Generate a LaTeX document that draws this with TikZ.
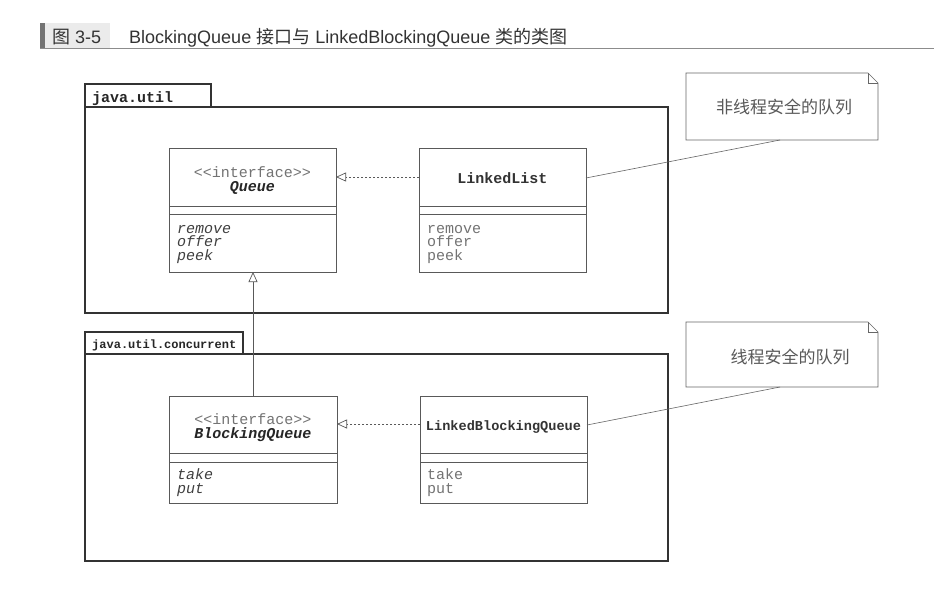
\documentclass[tikz,border=0pt]{standalone}
\usepackage{fontspec}
\setmonofont{Liberation Mono}
\newfontfamily\cjk{Noto Sans CJK SC}
\newfontfamily\titlelat{Liberation Sans}
\usetikzlibrary{arrows.meta}
\begin{document}
\begin{tikzpicture}[x=1pt,y=-1pt,
  pkgbox/.style={draw=black!80, line width=1.5pt, rectangle, inner sep=0pt, outer sep=0pt, anchor=north west},
  classbox/.style={draw=black!65, line width=0.8pt, rectangle, inner sep=0pt, outer sep=0pt, anchor=north west},
  sepline/.style={draw=black!65, line width=0.8pt},
  tt/.style={font=\fontsize{15}{18}\selectfont\ttfamily, inner sep=0pt},
  pkglabel/.style={tt, font=\fontsize{15}{18}\selectfont\ttfamily\bfseries, text=black!85, anchor=base west},
  stereo/.style={tt, text=black!55, anchor=base},
  iname/.style={tt, font=\fontsize{15}{18}\selectfont\ttfamily\bfseries\itshape, text=black!85, anchor=base},
  cname/.style={tt, font=\fontsize{15}{18}\selectfont\ttfamily\bfseries, text=black!80, anchor=base},
  imeth/.style={tt, font=\fontsize{15}{18}\selectfont\ttfamily\itshape, text=black!75, anchor=base west},
  cmeth/.style={tt, text=black!55, anchor=base west},
  notebox/.style={rectangle, inner sep=0pt, outer sep=0pt, anchor=north west},
  noteline/.style={draw=black!60, line width=0.6pt},
  notetext/.style={font=\fontsize{17}{20}\selectfont\cjk, text=black!65, inner sep=0pt},
  titletext/.style={anchor=base west, inner sep=0pt, text=black!80, font=\fontsize{18}{21}\selectfont\titlelat},
  realize/.style={draw=black!65, line width=0.7pt, dash pattern=on 2pt off 2pt, -{Triangle[open, length=10pt, width=9pt, line width=0.7pt]}},
  general/.style={draw=black!65, line width=0.7pt, -{Triangle[open, length=10pt, width=9pt, line width=0.7pt]}}
]
\useasboundingbox[fill=white] (0,0) rectangle (934,597);

% title
\fill[black!55] (40,23) rectangle (45,48);
\fill[black!8] (45,23) rectangle (110,48);
\draw[black!45, line width=1pt] (40,48.5) -- (934,48.5);
\node[titletext] (tnum) at (52,43) {{\cjk 图} 3-5};
\node[titletext] (ttext) at (129,43)
  {BlockingQueue {\cjk 接口与} LinkedBlockingQueue {\cjk 类的类图}};

% package java.util
\node[pkgbox, minimum width=583pt, minimum height=206pt] (pkg1) at (85,107) {};
\node[pkgbox, minimum width=126pt, minimum height=23pt] (pkg1tab) at (85,84) {};
\node[pkglabel] (pkg1lbl) at (92,102) {java.util};

% package java.util.concurrent
\node[pkgbox, minimum width=583pt, minimum height=207pt] (pkg2) at (85,354) {};
\node[pkgbox, minimum width=158pt, minimum height=22pt] (pkg2tab) at (85,332) {};
\node[pkglabel, font=\fontsize{12}{14}\selectfont\ttfamily\bfseries] (pkg2lbl) at (92,348) {java.util.concurrent};

% Queue
\node[classbox, minimum width=167pt, minimum height=124pt] (queue) at (169,148) {};
\draw[sepline] ([yshift=-58pt]queue.north west) -- ([yshift=-58pt]queue.north east);
\draw[sepline] ([yshift=-66pt]queue.north west) -- ([yshift=-66pt]queue.north east);
\node[stereo] (queuest) at (252.5,177) {<<interface>>};
\node[iname] (queuename) at (252.5,191) {Queue};
\node[imeth] (qm1) at (177,233) {remove};
\node[imeth] (qm2) at (177,246.5) {offer};
\node[imeth] (qm3) at (177,260) {peek};

% LinkedList
\node[classbox, minimum width=167pt, minimum height=124pt] (ll) at (419,148) {};
\draw[sepline] ([yshift=-58pt]ll.north west) -- ([yshift=-58pt]ll.north east);
\draw[sepline] ([yshift=-66pt]ll.north west) -- ([yshift=-66pt]ll.north east);
\node[cname] (llname) at (502.5,183) {LinkedList};
\node[cmeth] (llm1) at (427,233) {remove};
\node[cmeth] (llm2) at (427,246.5) {offer};
\node[cmeth] (llm3) at (427,260) {peek};

% BlockingQueue
\node[classbox, minimum width=168pt, minimum height=107pt] (bq) at (169,396) {};
\draw[sepline] ([yshift=-57pt]bq.north west) -- ([yshift=-57pt]bq.north east);
\draw[sepline] ([yshift=-66pt]bq.north west) -- ([yshift=-66pt]bq.north east);
\node[stereo] (bqst) at (253,424) {<<interface>>};
\node[iname] (bqname) at (253,438) {BlockingQueue};
\node[imeth] (bqm1) at (177,479.5) {take};
\node[imeth] (bqm2) at (177,493) {put};

% LinkedBlockingQueue
\node[classbox, minimum width=167pt, minimum height=107pt] (lbq) at (420,396) {};
\draw[sepline] ([yshift=-57pt]lbq.north west) -- ([yshift=-57pt]lbq.north east);
\draw[sepline] ([yshift=-66pt]lbq.north west) -- ([yshift=-66pt]lbq.north east);
\node[cname, font=\fontsize{13.6}{16}\selectfont\ttfamily\bfseries] (lbqname) at (503.5,430) {LinkedBlockingQueue};
\node[cmeth] (lbqm1) at (427,479.5) {take};
\node[cmeth] (lbqm2) at (427,493) {put};

% relations
\draw[realize] ([yshift=33pt]ll.west) -- ([yshift=33pt]queue.east);
\draw[realize] ([yshift=25.5pt]lbq.west) -- ([yshift=25.5pt]bq.east);
\draw[general] (bq.north) -- (bq.north |- queue.south);

% notes
\node[notebox, minimum width=192pt, minimum height=67pt] (note1) at (686,73) {};
\node[notebox, minimum width=192pt, minimum height=65pt] (note2) at (686,322) {};
\foreach \n in {note1,note2}{
  \draw[noteline] (\n.south west) -- (\n.north west) -- ([xshift=-10pt]\n.north east)
    -- ([yshift=-10pt]\n.north east) -- (\n.south east) -- cycle;
  \draw[noteline] ([xshift=-10pt]\n.north east) -- ([xshift=-10pt,yshift=-10pt]\n.north east)
    -- ([yshift=-10pt]\n.north east);
}
\node[notetext] (note1txt) at (784,107) {非线程安全的队列};
\node[notetext] (note2txt) at (790,357) {线程安全的队列};
\draw[noteline] ([yshift=32pt]ll.east) -- ([xshift=-2pt]note1.south);
\draw[noteline] ([yshift=24.5pt]lbq.east) -- ([xshift=-2pt]note2.south);
\end{tikzpicture}
\end{document}
